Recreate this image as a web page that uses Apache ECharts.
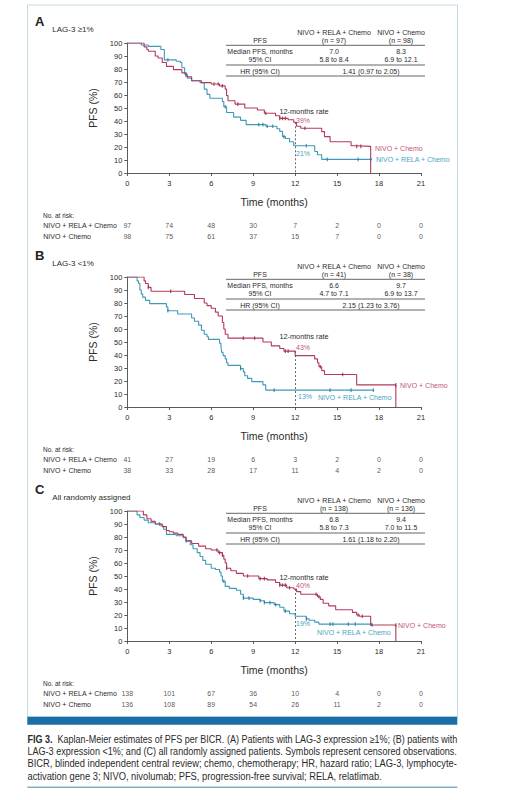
<!DOCTYPE html>
<html><head><meta charset="utf-8">
<script src="https://cdn.jsdelivr.net/npm/echarts@6/dist/echarts.min.js"></script>
<style>html,body{margin:0;padding:0;background:#fff}#c{width:511px;height:800px}</style>
</head><body><div id="c"></div>
<script>
// ---------------- DATA ----------------
const timeTicks = [0, 3, 6, 9, 12, 15, 18, 21];
const yTicks = [0, 10, 20, 30, 40, 50, 60, 70, 80, 90, 100];
const armNames = ['NIVO + RELA + Chemo', 'NIVO + Chemo'];

// Panel A: LAG-3 >=1%  ([time in months, PFS % after that time])
const kmA_rela = [[0,100],[1.0,98.5],[1.5,97.4],[2.4,95],[2.65,87],[3.5,86],[3.8,85],[3.9,81],[4.1,76],[4.3,73],[4.6,71],[5.2,69.5],[5.5,64.5],[5.7,60.5],[5.9,57.5],[6.8,55],[6.9,51],[7.1,46.5],[7.6,43],[8.1,40.5],[8.5,37.2],[9.9,36],[10.7,34],[10.9,32],[11.1,28],[11.3,26.5],[11.6,24],[11.9,21],[13.4,16.5],[13.6,14],[13.9,10.5],[17.5,10.5]];
const kmA_chemo = [[0,100],[1.2,97],[1.4,95],[1.5,93.6],[2.0,90],[2.2,88.5],[2.5,85],[2.8,82],[3.3,79.5],[3.9,77],[4.2,74],[4.6,71],[5.3,69.5],[6.0,68.5],[6.6,67],[7.0,64.5],[7.1,59.5],[7.2,55.6],[7.7,53],[8.4,50],[9.3,48.5],[9.8,46],[10.6,44],[10.9,42],[11.5,41],[11.9,39],[12.1,36],[12.4,34.4],[13.9,31.8],[14.1,28],[14.5,24],[16.0,21],[16.3,20.5],[17.4,20.5],[17.4,0]];
const censA_rela = [2.9, 4.2, 7.0, 9.4, 9.7, 10.0, 10.4, 11.2, 12.8, 14.3, 16.5, 17.4];
const censA_chemo = [6.2, 6.5, 6.8, 7.9, 9.9, 10.9, 11.1, 11.3, 12.7, 16.4, 16.7];
const rateA = [39, 21];
const riskA_rela = [97, 74, 48, 30, 7, 2, 0, 0];
const riskA_chemo = [98, 75, 61, 37, 15, 7, 0, 0];
const nA = ['(n = 97)', '(n = 98)'];
const medA = ['7.0', '8.3'];
const ciA = ['5.8 to 8.4', '6.9 to 12.1'];
const hrA = '1.41 (0.97 to 2.05)';

// Panel B: LAG-3 <1%
const kmB_rela = [[0,100],[0.7,97],[0.8,95],[0.9,90],[1.0,87],[1.1,84.5],[1.3,82],[1.6,79.5],[2.8,77],[2.9,74],[3.6,71.5],[4.6,68.5],[4.8,66],[5.1,63],[5.3,59],[5.5,56],[5.7,54],[5.8,52],[6.6,49],[6.7,46],[6.75,42],[6.85,39.5],[7.0,37],[7.1,34],[7.2,32],[8.1,29.5],[8.3,27],[8.4,24],[8.6,22],[8.9,19.5],[9.7,17],[9.9,13],[17.6,13]];
const kmB_chemo = [[0,100],[1.2,97],[1.3,95],[1.5,92],[1.7,89],[4.1,86.5],[4.8,83.5],[5.5,80],[5.7,78],[6.0,76],[6.3,73],[6.5,70],[6.8,65],[6.9,60],[7.0,56],[7.2,53],[9.7,50],[10.3,47],[10.9,45],[11.2,43],[12.0,39.5],[13.4,37],[13.6,34],[13.7,31],[13.9,28],[14.1,25],[16.4,17],[19.2,17],[19.2,0]];
const censB_rela = [2.9, 8.1, 10.5, 14.5, 16.0, 17.6];
const censB_chemo = [1.5, 3.1, 8.3, 9.1, 11.3, 11.5, 13.8, 15.4, 19.2];
const rateB = [43, 13];
const riskB_rela = [41, 27, 19, 6, 3, 2, 0, 0];
const riskB_chemo = [38, 33, 28, 17, 11, 4, 2, 0];
const nB = ['(n = 41)', '(n = 38)'];
const medB = ['6.6', '9.7'];
const ciB = ['4.7 to 7.1', '6.9 to 13.7'];
const hrB = '2.15 (1.23 to 3.76)';

// Panel C: all randomly assigned
const kmC_rela = [[0,100],[0.7,97],[0.9,95],[1.2,93],[1.5,91],[2.0,90],[2.4,88.5],[2.6,86],[2.8,82],[3.5,81],[4.0,79.5],[4.2,77],[4.5,74],[4.7,71],[5.0,68],[5.2,65],[5.4,62],[5.6,59],[6.0,56],[6.3,55],[6.6,53],[6.7,50],[6.8,46],[7.0,42],[7.3,40.5],[7.8,39],[8.1,36],[8.3,33],[9.0,32],[9.5,31],[9.8,29.5],[10.5,28],[10.9,26],[11.2,23],[11.6,21],[12.0,19],[12.8,17],[13.0,16],[13.4,14.5],[13.7,13],[17.5,13]];
const kmC_chemo = [[0,100],[1.15,97],[1.4,94],[1.7,92],[2.0,90],[2.5,88],[2.8,85],[3.0,84],[3.3,83],[3.6,82],[4.0,80],[4.2,77],[4.6,75],[5.1,73],[5.6,71],[6.0,70],[6.5,68],[6.8,66],[6.9,63],[7.0,60],[7.1,56],[7.4,54],[7.8,52],[8.3,50],[9.4,48],[10.0,47],[10.6,45],[10.9,43],[11.4,41],[11.9,40],[12.1,38],[12.4,36],[13.6,34],[13.8,32],[14.0,29],[14.4,27],[14.9,24],[16.1,22],[16.4,20],[16.6,19],[17.4,12.3],[19.2,12.3],[19.2,0]];
const censC_rela = [2.3, 4.2, 6.9, 8.3, 8.7, 9.5, 9.8, 10.2, 10.6, 11.3, 12.8, 14.5, 14.7, 15.8, 16.3, 17.4];
const censC_chemo = [6.4, 6.6, 6.8, 7.1, 8.6, 9.5, 9.8, 10.9, 11.1, 11.3, 11.6, 13.5, 13.7, 16.5, 16.8, 17.5, 19.2];
const rateC = [40, 19];
const riskC_rela = [138, 101, 67, 36, 10, 4, 0, 0];
const riskC_chemo = [136, 108, 89, 54, 26, 11, 2, 0];
const nC = ['(n = 138)', '(n = 136)'];
const medC = ['6.8', '9.4'];
const ciC = ['5.8 to 7.3', '7.0 to 11.5'];
const hrC = '1.61 (1.18 to 2.20)';

const captionLines = [
  'Kaplan-Meier estimates of PFS per BICR. (A) Patients with LAG-3 expression \u22651%; (B) patients with',
  'LAG-3 expression <1%; and (C) all randomly assigned patients. Symbols represent censored observations.',
  'BICR, blinded independent central review; chemo, chemotherapy; HR, hazard ratio; LAG-3, lymphocyte-',
  'activation gene 3; NIVO, nivolumab; PFS, progression-free survival; RELA, relatlimab.'
];

// ---------------- STYLE / LAYOUT ----------------
const FONT = '"Liberation Sans", Arial, sans-serif';
const RED = '#b53a5c', TEAL = '#3d9bb8', TXT = '#2b2b2b', AX = '#4a4a4a';
const RED_C = '#8e2446', TEAL_C = '#2a7690';
const RED_T = '#c25676', TEAL_T = '#4aa3bf';
const GL = 127.3, GW = 293.7;

const panels = [
  {letter:'A', sub:'LAG-3 \u22651%', dy:0, rela:kmA_rela, chemo:kmA_chemo, cR:censA_rela, cC:censA_chemo, rate:rateA, rR:riskA_rela, rC:riskA_chemo, n:nA, med:medA, ci:ciA, hr:hrA,
   lab:{rate:[304,111], rp:[296,120], tp:[296,153], rn:[375,148], tn:[376,159]}},
  {letter:'B', sub:'LAG-3 <1%', dy:234, rela:kmB_rela, chemo:kmB_chemo, cR:censB_rela, cC:censB_chemo, rate:rateB, rR:riskB_rela, rC:riskB_chemo, n:nB, med:medB, ci:ciB, hr:hrB,
   lab:{rate:[304,102.7], rp:[296,113], tp:[298,162.7], rn:[400,151.7], tn:[318,163.7]}},
  {letter:'C', sub:'All randomly assigned', dy:468, rela:kmC_rela, chemo:kmC_chemo, cR:censC_rela, cC:censC_chemo, rate:rateC, rR:riskC_rela, rC:riskC_chemo, n:nC, med:medC, ci:ciC, hr:hrC,
   lab:{rate:[304,109.7], rp:[296,117], tp:[296,155], rn:[398,157.7], tn:[317,164]}}
];

function survAt(curve, t) {
  let v = curve[0][1];
  for (const p of curve) { if (p[0] <= t && p[1] > 0) v = p[1]; }
  return v;
}
function txt(x, y, text, o) {
  o = o || {};
  return {type:'text', x:x, y:y, silent:true, z:20, style:Object.assign({text:text, fill:TXT, fontSize:7, fontFamily:FONT, align:'center', verticalAlign:'middle'}, o)};
}
function hline(x1, x2, y, color, w) {
  return {type:'line', silent:true, z:20, shape:{x1:x1, y1:y, x2:x2, y2:y}, style:{stroke:color || '#555', lineWidth:w || 0.9}};
}

const grid = [], xAxis = [], yAxis = [], series = [], graphic = [];

panels.forEach((P, i) => {
  const dy = P.dy;
  const ki = 2 * i;      // KM grid / axis index
  const gi = 2 * i + 1;  // at-risk grid / axis index
  grid[ki] = {left:GL, width:GW, top:43 + dy, height:130};
  grid[gi] = {left:GL, width:GW, top:225.7 + dy, height:11};
  xAxis[ki] = {gridIndex:ki, type:'value', min:0, max:21, interval:3,
    axisLine:{show:true, onZero:false, lineStyle:{color:AX, width:0.9}},
    axisTick:{show:true, length:3, lineStyle:{color:AX, width:0.9}},
    axisLabel:{fontSize:7.5, color:TXT, margin:6, fontFamily:FONT},
    splitLine:{show:false},
    name:'Time (months)', nameLocation:'middle', nameGap:23,
    nameTextStyle:{fontSize:10.5, color:TXT, fontFamily:FONT}};
  yAxis[ki] = {gridIndex:ki, type:'value', min:0, max:100, interval:10,
    axisLine:{show:true, onZero:false, lineStyle:{color:AX, width:0.9}},
    axisTick:{show:true, length:3, lineStyle:{color:AX, width:0.9}},
    axisLabel:{fontSize:7.5, color:TXT, margin:5, fontFamily:FONT},
    splitLine:{show:false},
    name:'PFS (%)', nameLocation:'middle', nameGap:27, nameRotate:90,
    nameTextStyle:{fontSize:10.5, color:TXT, fontFamily:FONT}};
  xAxis[gi] = {gridIndex:gi, type:'value', min:0, max:21, show:false};
  yAxis[gi] = {gridIndex:gi, type:'category', data:armNames, inverse:true, boundaryGap:false,
    axisLine:{show:false}, axisTick:{show:false}, splitLine:{show:false},
    axisLabel:{align:'left', margin:84, fontSize:7, color:TXT, fontFamily:FONT}};

  series.push({type:'line', xAxisIndex:ki, yAxisIndex:ki, data:P.rela, step:'end', symbol:'none', z:3,
    lineStyle:{color:TEAL, width:1.1}, itemStyle:{color:TEAL}});
  series.push({type:'line', xAxisIndex:ki, yAxisIndex:ki, data:P.chemo, step:'end', symbol:'none', z:4,
    lineStyle:{color:RED, width:1.1}, itemStyle:{color:RED},
    markLine:{silent:true, symbol:'none', label:{show:false},
      lineStyle:{type:[2,2], color:'#444', width:0.8},
      data:[[{coord:[12, P.rate[0]]}, {coord:[12, 0]}]]}});
  series.push({type:'scatter', xAxisIndex:ki, yAxisIndex:ki, symbol:'rect', symbolSize:[1.2,3.6], z:5,
    data:P.cR.map(t => [t, survAt(P.rela, t)]), itemStyle:{color:TEAL_C}});
  series.push({type:'scatter', xAxisIndex:ki, yAxisIndex:ki, symbol:'rect', symbolSize:[1.2,3.6], z:5,
    data:P.cC.map(t => [t, survAt(P.chemo, t)]), itemStyle:{color:RED_C}});

  const rd = [];
  timeTicks.forEach((t, k) => { rd.push([t, 0, P.rR[k]]); rd.push([t, 1, P.rC[k]]); });
  series.push({type:'scatter', xAxisIndex:gi, yAxisIndex:gi, data:rd, symbolSize:1, silent:true,
    itemStyle:{color:'rgba(0,0,0,0)'},
    label:{show:true, position:'inside', formatter:p => String(p.value[2]), fontSize:7, color:TXT, fontFamily:FONT}});

  // panel letter and subtitle
  graphic.push(txt(35, 21 + dy, P.letter, {align:'left', fontSize:13, fontWeight:'bold', fill:'#222'}));
  graphic.push(txt(52.3, 29.5 + dy, P.sub, {align:'left', fontSize:8}));
  graphic.push(txt(43, 215 + dy, 'No. at risk:', {align:'left', fontSize:6.5}));

  // summary table
  graphic.push(txt(334, 32 + dy, armNames[0]));
  graphic.push(txt(401, 32 + dy, armNames[1]));
  graphic.push(txt(260, 40 + dy, 'PFS'));
  graphic.push(txt(334, 40 + dy, P.n[0]));
  graphic.push(txt(401, 40 + dy, P.n[1]));
  graphic.push(hline(226, 425, 45.3 + dy));
  graphic.push(txt(260, 51 + dy, 'Median PFS, months'));
  graphic.push(txt(334, 51 + dy, P.med[0]));
  graphic.push(txt(401, 51 + dy, P.med[1]));
  graphic.push(txt(260, 59 + dy, '95% CI'));
  graphic.push(txt(334, 59 + dy, P.ci[0]));
  graphic.push(txt(401, 59 + dy, P.ci[1]));
  graphic.push(hline(226, 425, 65 + dy));
  graphic.push(txt(260, 71 + dy, 'HR (95% CI)'));
  graphic.push(txt(371, 71 + dy, P.hr));
  graphic.push(hline(226, 425, 76 + dy));

  // annotations
  const L = P.lab;
  graphic.push(txt(L.rate[0], L.rate[1] + dy, '12-months rate', {fontSize:7.3}));
  graphic.push(txt(L.rp[0], L.rp[1] + dy, P.rate[0] + '%', {align:'left', fill:RED_T}));
  graphic.push(txt(L.tp[0], L.tp[1] + dy, P.rate[1] + '%', {align:'left', fill:TEAL_T}));
  graphic.push(txt(L.rn[0], L.rn[1] + dy, armNames[1], {align:'left', fill:RED_T}));
  graphic.push(txt(L.tn[0], L.tn[1] + dy, armNames[0], {align:'left', fill:TEAL_T}));
});

// frame, blue bar, caption
graphic.push({type:'rect', silent:true, z:1, shape:{x:27.5, y:5, width:430, height:712}, style:{fill:'none', stroke:'#c3dbe7', lineWidth:1}});
graphic.push({type:'rect', silent:true, z:2, shape:{x:27.3, y:716.7, width:430, height:8}, style:{fill:'#1a6ea8'}});
graphic.push({type:'line', silent:true, z:2, shape:{x1:27.3, y1:787.3, x2:457.3, y2:787.3}, style:{stroke:'#86adc7', lineWidth:1.6}});

const mctx = document.createElement('canvas').getContext('2d');
function mw(t, f) { mctx.font = f; return mctx.measureText(t).width; }
const CF = 10;
const fN = CF + 'px "Liberation Sans"', fB = 'bold ' + CF + 'px "Liberation Sans"';
const capY = [739, 751.3, 763.6, 776];
const w0 = mw('FIG 3.', fB) + mw('  ' + captionLines[0], fN);
const sc0 = 430 / w0;
let lastSc = sc0;
captionLines.forEach((line, k) => {
  let sc;
  if (k === 0) sc = sc0;
  else if (k < 3) { sc = 430 / mw(line, fN); lastSc = sc; }
  else sc = lastSc;
  const text = k === 0 ? '{b|FIG 3.}  ' + line : line;
  graphic.push({type:'text', silent:true, z:20, x:27.5, y:capY[k], scaleX:sc,
    style:{text:text, fill:'#2a2a2a', fontSize:CF, fontFamily:FONT, align:'left', verticalAlign:'middle',
      rich:{b:{fontWeight:'bold', fontSize:CF, fontFamily:FONT, fill:'#2a2a2a'}}}});
});

const chart = echarts.init(document.getElementById('c'), null, {renderer:'svg', width:511, height:800});
chart.setOption({
  animation:false,
  backgroundColor:'#fff',
  textStyle:{fontFamily:FONT},
  grid:grid, xAxis:xAxis, yAxis:yAxis, series:series, graphic:graphic
});
</script>
</body></html>
